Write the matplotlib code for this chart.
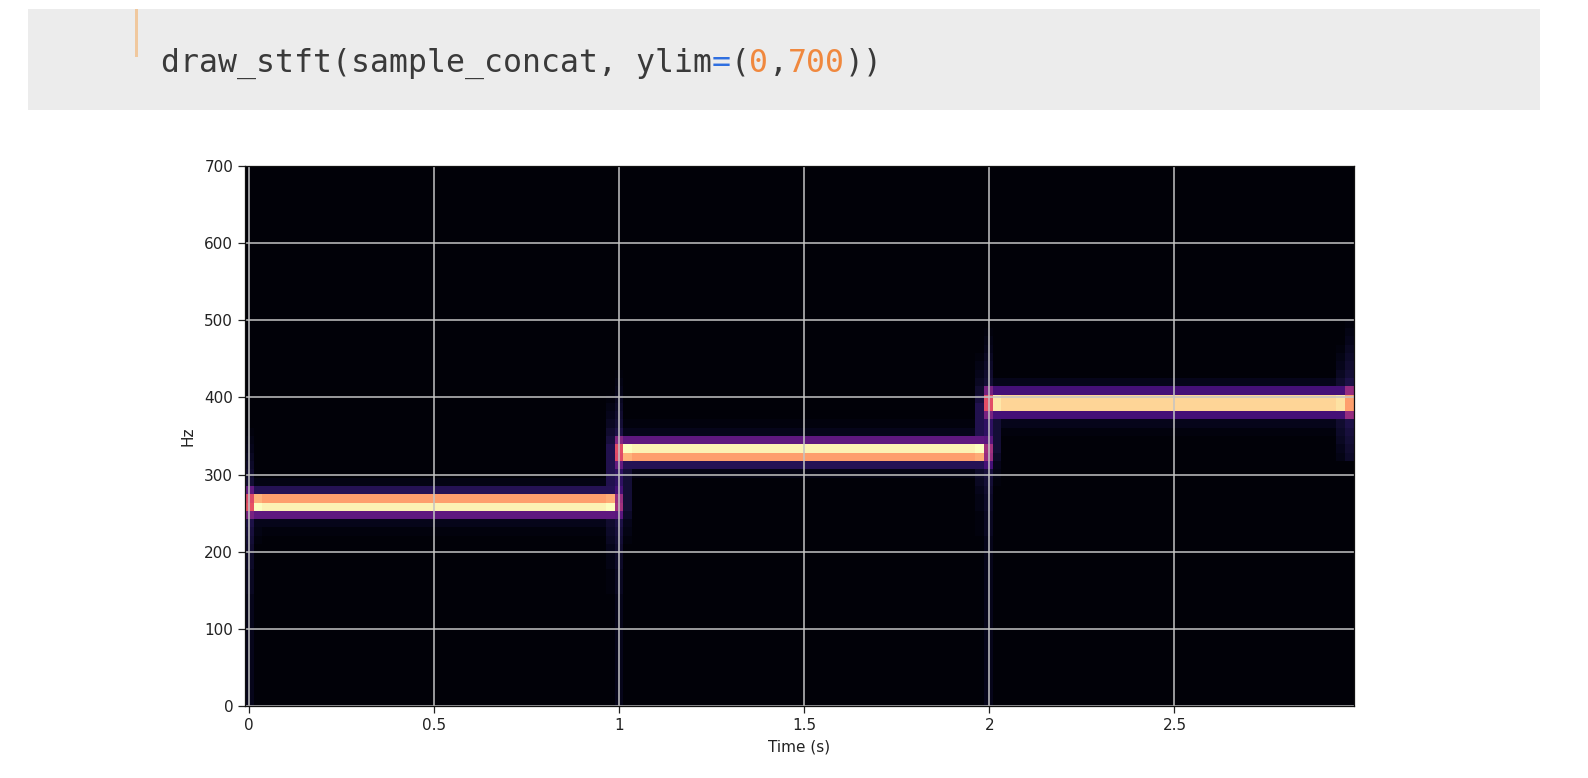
import numpy as np
import matplotlib
matplotlib.use("Agg")
import matplotlib.pyplot as plt
from matplotlib.patches import Rectangle

# ---------------- data ----------------
sr = 22050
n_fft = 2048
hop = 512
n_frames = 129
n_bins = 70
floor_db = -79

code_parts = ["draw_stft(sample_concat, ylim", "=", "(", "0", ",", "700", "))"]
code_colors = ["#3a3a3a", "#2f6fe0", "#3a3a3a", "#f0883e", "#3a3a3a", "#f0883e", "#3a3a3a"]

x_ticks = [0, 0.5, 1, 1.5, 2, 2.5]
x_tick_labels = ["0", "0.5", "1", "1.5", "2", "2.5"]
y_ticks = [0, 100, 200, 300, 400, 500, 600, 700]

# three notes (C4, E4, G4) -> peak STFT bin, frame span
note_peak_bins = [24, 31, 36]
note_start_frames = [0, 43, 86]
note_end_frames = [43, 86, 128]
profile_offsets = [-3, -2, -1, 0, 1, 2, 3]
note_profiles_db = [
    [-78, -76, -57, -2, -16, -68, -77],
    [-77, -68, -16, -2, -57, -76, -78],
    [-78, -76, -62, -7, -7, -62, -76],
]
onset_profiles_db = [
    [-79, -72, -52, -30, -32, -56, -76],
    [-78, -56, -32, -31, -50, -72, -78],
    [-78, -72, -52, -31, -31, -52, -72],
]
offset_profiles_db = [
    [-79, -74, -58, -44, -46, -62, -77],
    [-78, -62, -46, -44, -58, -74, -79],
    [-78, -70, -46, -16, -16, -46, -70],
]
post_onset_boost_db = 3
pre_offset_boost_db = 2

# broadband smear around the note changes
boundary_frames = [0, 43, 86, 128]
boundary_notes = [[0], [0, 1], [1, 2], [2]]
boundary_below_reach = [40, 40, 40, 6]
smear_frame_rel = [-1, 0, 1]
smear_frame_db = [-3, 0, -6]
smear_fade_above_db = [-66, -68, -70, -72, -73, -74, -75, -76, -77, -78, -79]
smear_fade_below_db = [-66, -68, -70, -71, -72, -73, -74, -74, -75, -75, -75, -76]

# ---------------- build the spectrogram table ----------------
S = np.full((n_bins, n_frames), float(floor_db))
bins = np.arange(n_bins)

for bf, notes, reach in zip(boundary_frames, boundary_notes, boundary_below_reach):
    lo = min(note_peak_bins[n] for n in notes)
    hi = max(note_peak_bins[n] for n in notes) + (1 if notes == [2] else 0)
    col = np.full(n_bins, float(floor_db))
    for b in bins:
        if b > hi:
            d = min(b - hi, len(smear_fade_above_db) - 1)
            col[b] = smear_fade_above_db[d]
        elif b < lo:
            if lo - b <= reach:
                d = min(lo - b, len(smear_fade_below_db) - 1)
                col[b] = smear_fade_below_db[d]
        else:
            col[b] = smear_fade_above_db[0]
    for rel, g in zip(smear_frame_rel, smear_frame_db):
        f = bf + rel
        if 0 <= f < n_frames:
            S[:, f] = np.maximum(S[:, f], col + g)

for k in range(3):
    pb = note_peak_bins[k]
    s0, s1 = note_start_frames[k], note_end_frames[k]
    rows = [pb + o for o in profile_offsets]
    prof = np.array(note_profiles_db[k], float)
    for f in range(s0, s1 + 1):
        if f >= n_frames:
            break
        if f == s0:
            p = np.array(onset_profiles_db[k], float)
        elif f == s1:
            p = np.array(offset_profiles_db[k], float)
        elif f == s0 + 1:
            p = np.where(prof > -30, np.minimum(prof + post_onset_boost_db, 0), prof)
        elif f == s1 - 1:
            p = np.where(prof > -30, np.minimum(prof + pre_offset_boost_db, 0), prof)
        else:
            p = prof
        S[rows, f] = np.maximum(S[rows, f], p)

# ---------------- figure ----------------
W, H = 1588, 778
fig = plt.figure(figsize=(W / 100, H / 100), dpi=100)
fig.patch.set_facecolor("white")

# code cell
fig.add_artist(Rectangle((28 / W, 1 - 110 / H), (1540 - 28) / W, (110 - 9) / H,
                         transform=fig.transFigure, facecolor="#ececec", edgecolor="none"))
fig.add_artist(Rectangle((135 / W, 1 - 57 / H), 3 / W, 48 / H,
                         transform=fig.transFigure, facecolor="#f0c89e", edgecolor="none"))
fs = 22.7
adv = 0.6021 * fs * 100 / 72
x0 = 161
idx = 0
for part, c in zip(code_parts, code_colors):
    fig.text((x0 + idx * adv) / W, 1 - 72 / H, part, fontsize=fs, color=c,
             family="DejaVu Sans Mono", va="baseline", ha="left")
    idx += len(part)

# spectrogram axes
left, right, top, bottom = 245, 1353.5, 166, 706
ax = fig.add_axes([left / W, 1 - bottom / H, (right - left) / W, (bottom - top) / H])
x_edges = (np.arange(n_frames + 1) - 0.5) * hop / sr
y_edges = (np.arange(n_bins + 1) - 0.5) * sr / n_fft
ax.pcolormesh(x_edges, y_edges, S, cmap="magma", vmin=-80, vmax=0, shading="flat")
ax.set_xlim(x_edges[0], x_edges[-1])
ax.set_ylim(0, 700)
ax.set_xticks(x_ticks)
ax.set_xticklabels(x_tick_labels)
ax.set_yticks(y_ticks)
ax.tick_params(labelsize=11, length=5, width=0.9, colors="#222222", pad=3.5)
ax.grid(True, color="#c4c4c4", linewidth=1.1)
for sp in ax.spines.values():
    sp.set_color("#111111")
    sp.set_linewidth(0.9)
ax.set_xlabel("Time (s)", fontsize=11, color="#222222", labelpad=5)
ax.set_ylabel("Hz", fontsize=11, color="#222222", labelpad=6)

fig.savefig("out.png", dpi=100, facecolor="white")
